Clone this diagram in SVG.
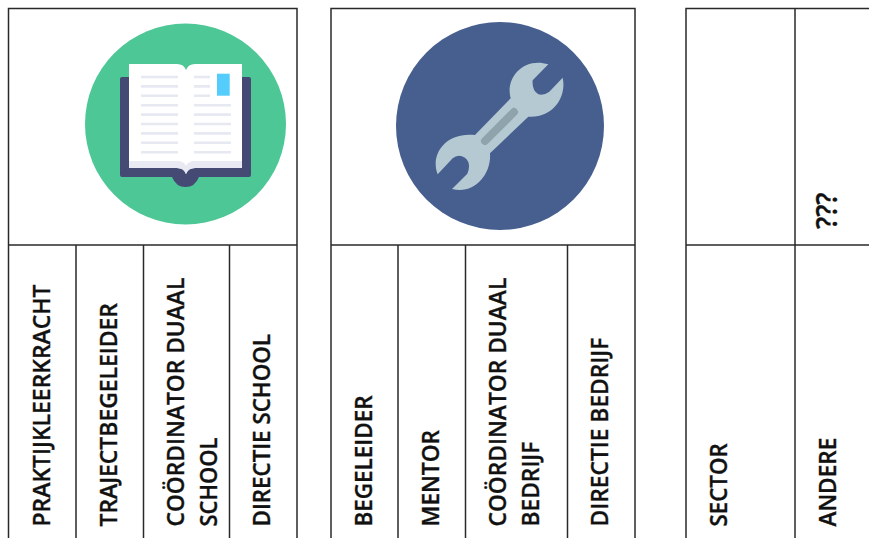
<svg xmlns="http://www.w3.org/2000/svg" width="869" height="538" viewBox="0 0 869 538">
<style>
.g{stroke:#2a2a2a;stroke-width:1.5;fill:none}
text{font-family:"Open Sans","Noto Sans",sans-serif;font-weight:600;font-size:22.900px;fill:#111;stroke:#111;stroke-width:.35}
.l{stroke:#e6e8f2;stroke-width:2.6;fill:none}
</style>
<rect width="869" height="538" fill="#fff"/>
<g id="grid" class="g">
<path d="M8.500 538V8.500H297V538M8.500 245H297M76 245V538M143.500 245V538M229.500 245V538"/>
<path d="M331 538V8.500H635V538M331 245H635M398 245V538M465.500 245V538M567.500 245V538"/>
<path d="M686 538V8.500H869M686 245H869M795 8.500V538"/>
</g>
<g id="book-icon">
<circle cx="185.500" cy="124" r="100.500" fill="#4cc795"/>
<path d="M122 77H249a2 2 0 0 1 2 2V175a2 2 0 0 1-2 2H199q-4 10-13.500 10t-13.500-10H122a2 2 0 0 1-2-2V79a2 2 0 0 1 2-2Z" fill="#454a74"/>
<path d="M129 64H177q7 0 9 6q2-6 9-6H242V168H195q-7 0-9 6q-2-6-9-6H129Z" fill="#fff"/>
<path d="M129 161H177q7 0 9 5q2-5 9-5H242V168H195q-7 0-9 6q-2-6-9-6H129Z" fill="#e8e9f2"/>
<path class="l" d="M141 77h37M141 86.400h37M141 95.800h37M141 105.200h37M141 114.600h37M141 124h37M141 133.400h37M141 142.800h37M141 152.200h37M194 77h16M194 86.400h16M194 95.800h16M194 105.200h37M194 114.600h37M194 124h37M194 133.400h37M194 142.800h37M194 152.200h37"/>
<rect x="217" y="73.700" width="12.700" height="22" fill="#55cdfc"/>
</g>
<g id="wrench-icon">
<circle cx="500" cy="126" r="104" fill="#475f8f"/>
<g transform="translate(390 15) scale(.33333)">
<path d="M475 148L428 196Q425 225 445 238Q462 242 478 230L518 188C530 240 495 310 415 305L300 415C305 480 250 540 186 522L232 476Q245 445 225 428Q205 415 188 430L143 478C120 420 165 350 255 360L362 250C345 190 400 125 475 148Z" fill="#b5c9d2"/>
<path d="M285 378L372 291" stroke="#8ea3ab" stroke-width="24" stroke-linecap="round" fill="none"/>
</g>
</g>
<g id="labels">
<text transform="translate(49.500 526.500) rotate(-90)" textLength="242" lengthAdjust="spacingAndGlyphs">PRAKTIJKLEERKRACHT</text>
<text transform="translate(116.500 526.500) rotate(-90)" textLength="223.500" lengthAdjust="spacingAndGlyphs">TRAJECTBEGELEIDER</text>
<text transform="translate(184 526.500) rotate(-90)" textLength="248.800" lengthAdjust="spacingAndGlyphs">COÖRDINATOR DUAAL</text>
<text transform="translate(217 526.500) rotate(-90)" textLength="88.800" lengthAdjust="spacingAndGlyphs">SCHOOL</text>
<text transform="translate(269.500 526.500) rotate(-90)" textLength="192.500" lengthAdjust="spacingAndGlyphs">DIRECTIE SCHOOL</text>
<text transform="translate(371.500 526.500) rotate(-90)" textLength="131" lengthAdjust="spacingAndGlyphs">BEGELEIDER</text>
<text transform="translate(439 526.500) rotate(-90)" textLength="96.500" lengthAdjust="spacingAndGlyphs">MENTOR</text>
<text transform="translate(506.200 526.500) rotate(-90)" textLength="248.800" lengthAdjust="spacingAndGlyphs">COÖRDINATOR DUAAL</text>
<text transform="translate(538.800 526.500) rotate(-90)" textLength="84.800" lengthAdjust="spacingAndGlyphs">BEDRIJF</text>
<text transform="translate(607.800 526.500) rotate(-90)" textLength="188.800" lengthAdjust="spacingAndGlyphs">DIRECTIE BEDRIJF</text>
<text transform="translate(726.500 526.500) rotate(-90)" textLength="83.200" lengthAdjust="spacingAndGlyphs">SECTOR</text>
<text transform="translate(835.800 526.500) rotate(-90)" textLength="88.800" lengthAdjust="spacingAndGlyphs">ANDERE</text>
<text transform="translate(836.500 229) rotate(-90)" style="font-size:29px" textLength="36.500" lengthAdjust="spacingAndGlyphs">???</text>
</g>
</svg>
